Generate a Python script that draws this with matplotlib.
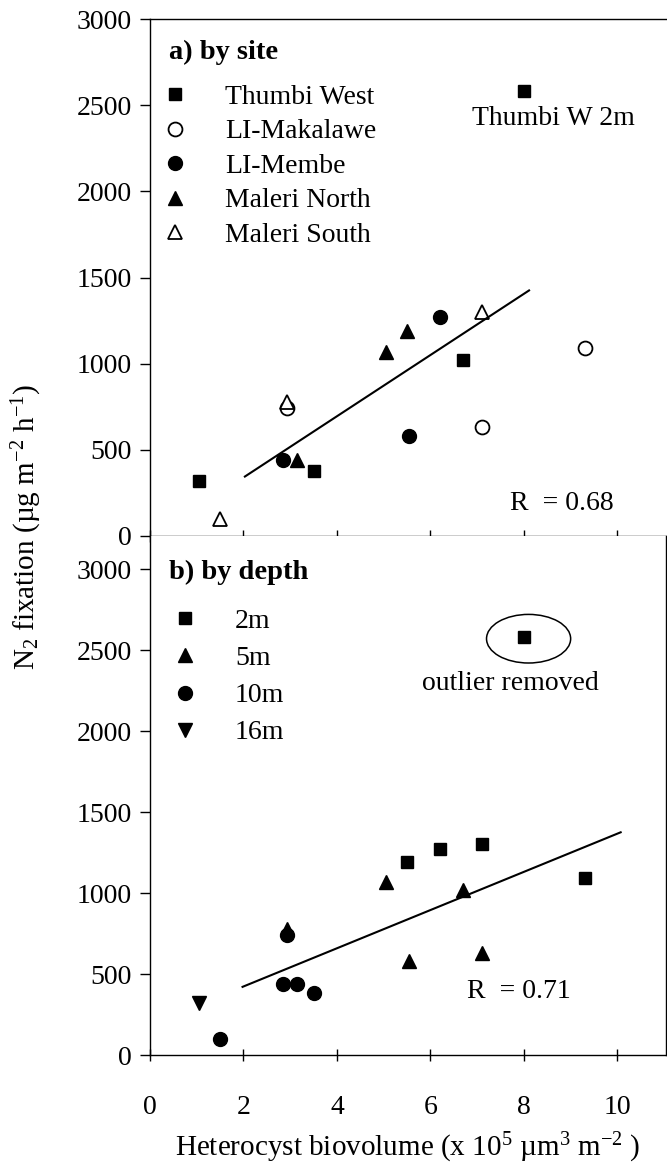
import matplotlib
matplotlib.use("Agg")
import matplotlib.pyplot as plt
from matplotlib.patches import Ellipse

plt.rcParams["font.family"] = "serif"
plt.rcParams["font.serif"] = ["Liberation Serif", "DejaVu Serif"]
plt.rcParams["mathtext.fontset"] = "custom"
plt.rcParams["mathtext.rm"] = "Liberation Serif"
plt.rcParams["mathtext.it"] = "Liberation Serif:italic"
plt.rcParams["mathtext.bf"] = "Liberation Serif:bold"
plt.rcParams["axes.linewidth"] = 1.0

# ---- panel a) by site -------------------------------------------------
thumbi_west_x = [1.05, 3.5, 6.7]
thumbi_west_y = [320, 380, 1020]
makalawe_x = [2.93, 7.1, 9.3]
makalawe_y = [740, 630, 1090]
membe_x = [2.85, 5.55, 6.2]
membe_y = [440, 580, 1270]
maleri_north_x = [3.15, 5.05, 5.5]
maleri_north_y = [440, 1070, 1190]
maleri_south_x = [1.5, 2.93, 7.1]
maleri_south_y = [100, 780, 1300]
thumbi_2m_x = [8.0]
thumbi_2m_y = [2580]
fit_a_x = [2.03, 8.11]
fit_a_y = [345, 1425]
r_a = "R  = 0.68"

# ---- panel b) by depth ------------------------------------------------
d2_x = [5.5, 6.2, 7.1, 9.3]
d2_y = [1190, 1270, 1300, 1090]
d5_x = [2.93, 5.05, 6.7, 5.55, 7.1]
d5_y = [780, 1070, 1020, 580, 630]
d10_x = [1.5, 2.85, 3.15, 3.5, 2.93]
d10_y = [100, 440, 440, 380, 740]
d16_x = [1.05]
d16_y = [320]
outlier_x = [8.0]
outlier_y = [2580]
fit_b_x = [1.98, 10.07]
fit_b_y = [421, 1375]
r_b = "R  = 0.71"

xticks = [0, 2, 4, 6, 8, 10]
yticks = [0, 500, 1000, 1500, 2000, 2500, 3000]

FS = 20
LFS = 21
MS = 10


def style_axis(ax, ylim):
    ax.set_xlim(0, 11.04)
    ax.set_ylim(*ylim)
    ax.set_xticks(xticks)
    ax.set_yticks(yticks)
    ax.tick_params(axis="y", direction="out", length=7, width=1, pad=6,
                   labelsize=FS)
    ax.tick_params(axis="x", direction="inout", length=9, width=1, pad=24,
                   labelsize=FS)


fig = plt.figure(figsize=(6.67, 11.68), dpi=100)
ax1 = fig.add_axes([0.2249, 0.5411, 0.7736, 0.4426])
ax2 = fig.add_axes([0.2249, 0.0967, 0.7736, 0.4444])

# panel a
filled = dict(color="black", linestyle="none", markersize=MS)
opened = dict(color="black", markerfacecolor="white", markeredgewidth=1.3,
              linestyle="none", markersize=MS)
square = {**filled, "markersize": MS - 1.5}

ax1.plot(thumbi_west_x, thumbi_west_y, marker="s", label="Thumbi West",
         **square)
ax1.plot(makalawe_x, makalawe_y, marker="o", label="LI-Makalawe", **opened)
ax1.plot(membe_x, membe_y, marker="o", label="LI-Membe", **filled)
ax1.plot(maleri_north_x, maleri_north_y, marker="^", label="Maleri North",
         **filled)
ax1.plot(maleri_south_x, maleri_south_y, marker="^", label="Maleri South",
         **opened)
ax1.plot(thumbi_2m_x, thumbi_2m_y, marker="s", **square)
ax1.plot(fit_a_x, fit_a_y, color="black", linewidth=1.5)
ax1.text(thumbi_2m_x[0] + 0.64, thumbi_2m_y[0] - 160, "Thumbi W 2m",
         ha="center", va="center", fontsize=FS)
ax1.text(7.7, 187, r_a, ha="left", va="center", fontsize=FS)
ax1.text(0.036, 0.935, "a) by site", transform=ax1.transAxes,
         fontsize=FS + 0.5, fontweight="bold", ha="left", va="center")
ax1.legend(loc="upper left", bbox_to_anchor=(0.021, 0.874), frameon=False,
           fontsize=FS, numpoints=1, handlelength=1.0, handletextpad=1.3,
           labelspacing=0.33, borderpad=0, borderaxespad=0)
style_axis(ax1, (0, 3000))
ax1.tick_params(axis="x", labelbottom=False)
ax1.spines["right"].set_visible(False)

# panel b
ax2.plot(d2_x, d2_y, marker="s", label="2m", **square)
ax2.plot(d5_x, d5_y, marker="^", label="5m", **filled)
ax2.plot(d10_x, d10_y, marker="o", label="10m", **filled)
ax2.plot(d16_x, d16_y, marker="v", label="16m", **filled)
ax2.plot(outlier_x, outlier_y, marker="s", **square)
ax2.add_patch(Ellipse((outlier_x[0] + 0.1, outlier_y[0] - 10), 1.8, 300,
                      fill=False, edgecolor="black", linewidth=1.1))
ax2.plot(fit_b_x, fit_b_y, color="black", linewidth=1.5)
ax2.text(outlier_x[0] - 0.3, outlier_y[0] - 285, "outlier removed",
         ha="center", va="center", fontsize=FS)
ax2.text(6.78, 390, r_b, ha="left", va="center", fontsize=FS)
ax2.text(0.036, 0.929, "b) by depth", transform=ax2.transAxes,
         fontsize=FS + 0.5, fontweight="bold", ha="left", va="center")
ax2.legend(loc="upper left", bbox_to_anchor=(0.041, 0.86), frameon=False,
           fontsize=FS, numpoints=1, handlelength=1.0, handletextpad=1.3,
           labelspacing=0.42, borderpad=0, borderaxespad=0)
style_axis(ax2, (0, 3204))
ax2.spines["top"].set_visible(False)

ax2.set_xlabel("Heterocyst biovolume (x 10$^5$ µm$^3$ m$^{-2}$ )",
               fontsize=LFS, labelpad=8)
fig.text(0.04, 0.549, "N$_2$ fixation (µg m$^{-2}$ h$^{-1}$)", rotation=90,
         ha="center", va="center", fontsize=LFS)

fig.savefig("out.png", dpi=100)
